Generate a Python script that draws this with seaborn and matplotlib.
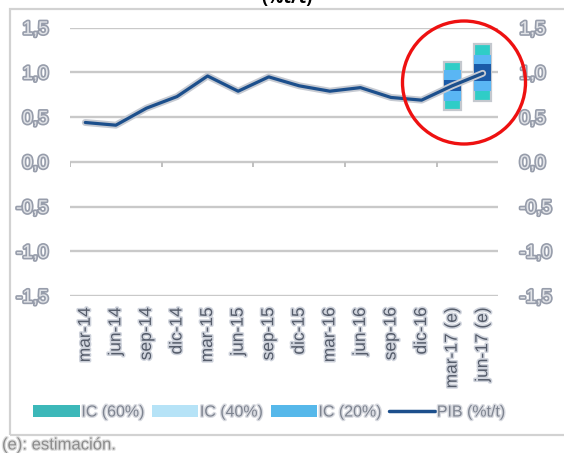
import matplotlib
matplotlib.use("Agg")
import numpy as np
import pandas as pd
import seaborn as sns
import matplotlib.pyplot as plt
import matplotlib.patheffects as pe
from matplotlib.patches import Patch, Circle, Rectangle
from matplotlib.lines import Line2D
from matplotlib.ticker import FixedLocator, FuncFormatter

# Quarterly GDP growth (% q/q) with confidence bands for the estimates
quarters = ["mar-14", "jun-14", "sep-14", "dic-14", "mar-15", "jun-15", "sep-15",
            "dic-15", "mar-16", "jun-16", "sep-16", "dic-16", "mar-17 (e)", "jun-17 (e)"]
pib = [0.44, 0.41, 0.60, 0.73, 0.96, 0.79, 0.95, 0.85, 0.79, 0.83, 0.72, 0.69, 0.85, 0.99]

est_quarters = ["mar-17 (e)", "jun-17 (e)"]
ic60_low = [0.58, 0.68]
ic60_high = [1.12, 1.32]
ic40_low = [0.68, 0.79]
ic40_high = [1.03, 1.20]
ic20_low = [0.79, 0.90]
ic20_high = [0.92, 1.09]

y_ticks = [-1.5, -1.0, -0.5, 0.0, 0.5, 1.0, 1.5]
legend_labels = ["IC (60%)", "IC (40%)", "IC (20%)", "PIB (%t/t)"]

sns.set_theme(style="white")
plt.rcParams["font.family"] = ["Liberation Sans", "DejaVu Sans"]

W, H = 564, 453
fig = plt.figure(figsize=(W / 100, H / 100), dpi=100)
ax = fig.add_axes([70 / W, (H - 296) / H, 428 / W, 268.3 / H])

df = pd.DataFrame({"trimestre": quarters, "pib": pib})

# GDP line (sets the category order of the x axis)
sns.lineplot(data=df, x="trimestre", y="pib", sort=False, ax=ax, color="#1c4f8c",
             linewidth=2.3, zorder=5,
             path_effects=[pe.Stroke(linewidth=5, foreground="#c6cad2"), pe.Normal()])

# confidence bands (outermost first)
bw = 0.56
ax.bar(est_quarters, np.subtract(ic60_high, ic60_low), bottom=ic60_low, width=bw,
       color="#2fcdc7", edgecolor="#c4c8ce", linewidth=1.6, zorder=3)
ax.bar(est_quarters, np.subtract(ic40_high, ic40_low), bottom=ic40_low, width=bw,
       color="#5ab6f4", edgecolor="none", linewidth=0, zorder=3.1)
ax.bar(est_quarters, np.subtract(ic20_high, ic20_low), bottom=ic20_low, width=bw,
       color="#1a5aa8", edgecolor="none", linewidth=0, zorder=3.2)

ax.set_xlim(-0.5, len(quarters) - 0.5)
ax.set_ylim(-1.5, 1.5)
ax.set_xlabel("")
ax.set_ylabel("")
for s in ax.spines.values():
    s.set_visible(False)

ax.yaxis.set_major_locator(FixedLocator(y_ticks))
ax.yaxis.set_major_formatter(FuncFormatter(lambda v, p: f"{v:.1f}".replace(".", ",")))
ax.yaxis.grid(True, color="#c9c9c9", linewidth=1.7)
ax.xaxis.grid(False)
ax.set_axisbelow(True)

# category ticks on the zero line
ax.vlines(np.arange(-0.5, len(quarters) - 0.5, 3), 0, -0.055, color="#c0c0c0",
          linewidth=1.4, zorder=2)

ax.tick_params(axis="y", left=False, right=False, labelleft=True, labelright=True,
               pad=9.5, labelsize=13.5, labelcolor="#e2e4e8")
ax.tick_params(axis="x", bottom=False, length=0, pad=8, labelsize=12.5,
               labelcolor="#555c6a", labelrotation=90)

fig.canvas.draw()
ylab_fx = [pe.withStroke(linewidth=2.4, foreground="#979dab")]
xlab_fx = [pe.withStroke(linewidth=2.2, foreground="#cfd3dc")]
for t in ax.yaxis.get_major_ticks():
    t.label1.set_path_effects(ylab_fx)
    t.label2.set_path_effects(ylab_fx)
for t in ax.xaxis.get_major_ticks():
    t.label1.set_path_effects(xlab_fx)

# legend
handles = [Patch(facecolor="#3cb8b9", edgecolor="none"),
           Patch(facecolor="#b6e3f7", edgecolor="none"),
           Patch(facecolor="#56b8ea", edgecolor="none"),
           Line2D([], [], color="#1c4f8c", linewidth=2.5)]
leg = fig.legend(handles, legend_labels, loc="center", bbox_to_anchor=(0.478, (H - 412) / H),
                 ncol=4, frameon=False, handlelength=2.9, handleheight=0.85,
                 handletextpad=0.1, columnspacing=0.45, fontsize=11.5)
for t in leg.get_texts():
    t.set_color("#7e8490")
    t.set_path_effects([pe.withStroke(linewidth=2, foreground="#d8dae0")])

# frame around the chart
fig.add_artist(Rectangle((10 / W, (H - 435) / H), 600 / W, 426 / H, transform=fig.transFigure,
                         fill=False, edgecolor="#d2d2d2", linewidth=1.6))

# highlight of the estimates
fig.add_artist(Circle((4.64, (H - 82.5) / 100), 0.615, transform=fig.dpi_scale_trans,
                      fill=False, edgecolor="#ee1111", linewidth=2.4, zorder=10))

fig.text(287 / W, 1 - 7 / H, "(%t/t)", ha="center", va="bottom", fontsize=13,
         fontweight="bold", color="black", family=["Open Sans", "DejaVu Sans"])

fig.text(2 / W, (H - 445) / H, "(e): estimación.", ha="left", va="center", fontsize=12,
         color="#8c8c8c", path_effects=[pe.withStroke(linewidth=1.8, foreground="#dcdcdc")])

fig.savefig("out.png", dpi=100, facecolor="white")
